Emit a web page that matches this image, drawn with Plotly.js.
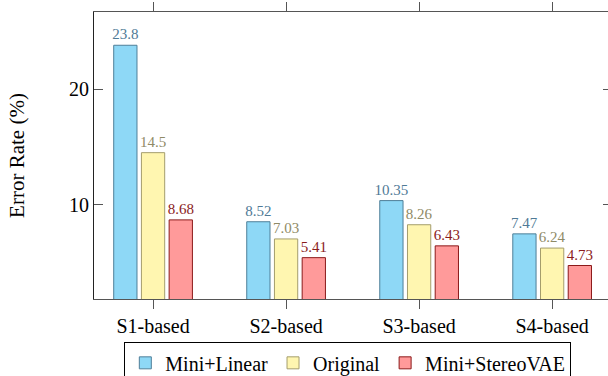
<!DOCTYPE html>
<html>
<head>
<meta charset="utf-8">
<script src="https://cdn.plot.ly/plotly-3.0.1.min.js"></script>
<style>
html,body{margin:0;padding:0;overflow:hidden;background:#fff;width:608px;height:376px;}
#chart{width:620px;height:392px;}
</style>
</head>
<body>
<div id="chart"></div>
<script>
var categories = ["S1-based", "S2-based", "S3-based", "S4-based"];
var seriesNames = ["Mini+Linear", "Original", "Mini+StereoVAE"];
var miniLinear = [23.8, 8.52, 10.35, 7.47];
var original = [14.5, 7.03, 8.26, 6.24];
var miniStereoVAE = [8.68, 5.41, 6.43, 4.73];
var yTickVals = [10, 20];
var yTickText = ["10", "20"];
var labelText = [["23.8","8.52","10.35","7.47"],["14.5","7.03","8.26","6.24"],["8.68","5.41","6.43","4.73"]];

var fills = ["#8ed8f6", "#fff6b0", "#ff9a9a"];
var borders = ["#4f7f98", "#a49d6c", "#8b1a1a"];
var labelColors = ["#4f7a96", "#8f8a66", "#8b1c1c"];
var values = [miniLinear, original, miniStereoVAE];

var FONT = "Liberation Serif, Times New Roman, serif";

var traces = values.map(function(v, i){
  return {
    type: "bar",
    name: seriesNames[i],
    x: categories,
    y: v,
    text: labelText[i],
    textposition: "outside",
    constraintext: "none",
    cliponaxis: false,
    textfont: {family: FONT, size: 15, color: labelColors[i]},
    marker: {color: fills[i], line: {color: borders[i], width: 1}},
    hoverinfo: "none"
  };
});

var layout = {
  width: 620,
  height: 392,
  margin: {l: 94, r: 8, t: 12, b: 92.5},
  paper_bgcolor: "#fff",
  plot_bgcolor: "#fff",
  barmode: "group",
  bargap: 0.375,
  bargroupgap: 0.16,
  font: {family: FONT, color: "#000"},
  showlegend: true,
  legend: {
    orientation: "h",
    x: 0.49, xanchor: "center",
    y: -0.151, yanchor: "top",
    bordercolor: "#000", borderwidth: 1,
    font: {family: FONT, size: 20, color: "#000"},
    itemwidth: 30,
    tracegroupgap: 0,
    itemclick: false
  },
  xaxis: {
    type: "category",
    range: [-0.444, 3.45],
    showline: true, linecolor: "#555", linewidth: 1, mirror: "all",
    ticks: "outside", ticklen: 9, tickcolor: "#555", tickwidth: 1,
    showgrid: false, zeroline: false,
    tickfont: {family: FONT, size: 20, color: "#000"}
  },
  yaxis: {
    range: [1.83, 26.68],
    showline: true, linecolor: "#222", linewidth: 1, mirror: "all",
    ticks: "inside", ticklen: 9, tickcolor: "#555", tickwidth: 1,
    tickvals: yTickVals, ticktext: yTickText,
    showgrid: false, zeroline: false,
    tickfont: {family: FONT, size: 20, color: "#000"},
    title: {text: "Error Rate (%)", font: {family: FONT, size: 21, color: "#000"}, standoff: 38}
  }
};

Plotly.newPlot("chart", traces, layout, {staticPlot: true, displayModeBar: false});
</script>
</body>
</html>
